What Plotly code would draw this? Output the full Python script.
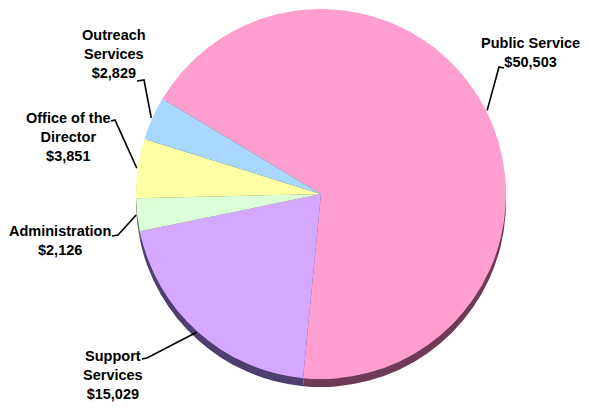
import math
import plotly.graph_objects as go

# ---- data ----
categories = ["Public Service", "Support Services", "Administration",
              "Office of the Director", "Outreach Services"]
label_lines = ["Public Service", "Support<br>Services", "Administration",
               "Office of the<br>Director", "Outreach<br>Services"]
values = [50503, 15029, 2126, 3851, 2829]

# ---- style / layout ----
OFF = 8                    # default body margin of the html page
W, H = 589 - 2 * OFF, 410 - 2 * OFF
colors = ["#FF9FCF", "#D4A8FF", "#DAFFD9", "#FFFFA3", "#A8D8FF"]
side_colors = ["#6E3A55", "#4F3E70", "#5A6E5A", "#6E6E46", "#46596E"]
ROTATION = -59
R = 185            # pixel radius
CX, CY = 321, 194  # pixel centre (page coordinates)
DEPTH = 8          # pixel thickness of the rim

# label placement (page px): (text centre x, text centre y, elbow x, elbow y, hook end x)
label_layout = [
    (530, 53, 499, 67, 504),
    (113, 375, 147, 358, 142),
    (60, 240, 118, 235, 112),
    (68, 137, 115, 120, 111),
    (114, 54, 144, 80, 137),
]


def px(x):
    return (x - OFF) / W


def py(y):
    return 1 - (y - OFF) / H


def domain_for(cy):
    return dict(x=[px(CX - 1.05 * R), px(CX + 1.05 * R)],
                y=[py(cy + R), min(1.0, py(cy - R))])


fig = go.Figure()
# rim (drawn beneath, shifted down)
fig.add_trace(go.Pie(
    labels=categories, values=values, sort=False, direction="clockwise",
    rotation=ROTATION, marker=dict(colors=side_colors, line=dict(width=0)),
    textinfo="none", hoverinfo="skip", showlegend=False,
    domain=domain_for(CY + DEPTH),
))
# top face
fig.add_trace(go.Pie(
    labels=categories, values=values, sort=False, direction="clockwise",
    rotation=ROTATION, marker=dict(colors=colors, line=dict(width=0)),
    textinfo="none", showlegend=False,
    domain=domain_for(CY),
))

total = sum(values)
cum = 0
shapes = []
annotations = []
for name, lines, v, lay in zip(categories, label_lines, values, label_layout):
    mid = math.radians(ROTATION + 360 * (cum + v / 2) / total)
    cum += v
    sx = CX + (R + 1) * math.sin(mid)
    sy = CY - (R + 1) * math.cos(mid)
    tx, ty, ex, ey, hx = lay
    shapes.append(dict(
        type="path", xref="paper", yref="paper",
        path=f"M {px(sx)},{py(sy)} L {px(ex)},{py(ey)} L {px(hx)},{py(ey + 1)}",
        line=dict(color="black", width=1.6),
    ))
    annotations.append(dict(
        x=px(tx), y=py(ty), xref="paper", yref="paper",
        text=f"<b>{lines}<br>${v:,}</b>", showarrow=False,
        xanchor="center", yanchor="middle", align="center",
        font=dict(family="Liberation Sans, Arial, sans-serif", size=14.5,
                  color="black"),
    ))

fig.update_layout(
    width=W, height=H,
    margin=dict(l=0, r=0, t=0, b=0),
    paper_bgcolor="white", plot_bgcolor="white",
    shapes=shapes, annotations=annotations,
)

fig.write_html("out.html")
